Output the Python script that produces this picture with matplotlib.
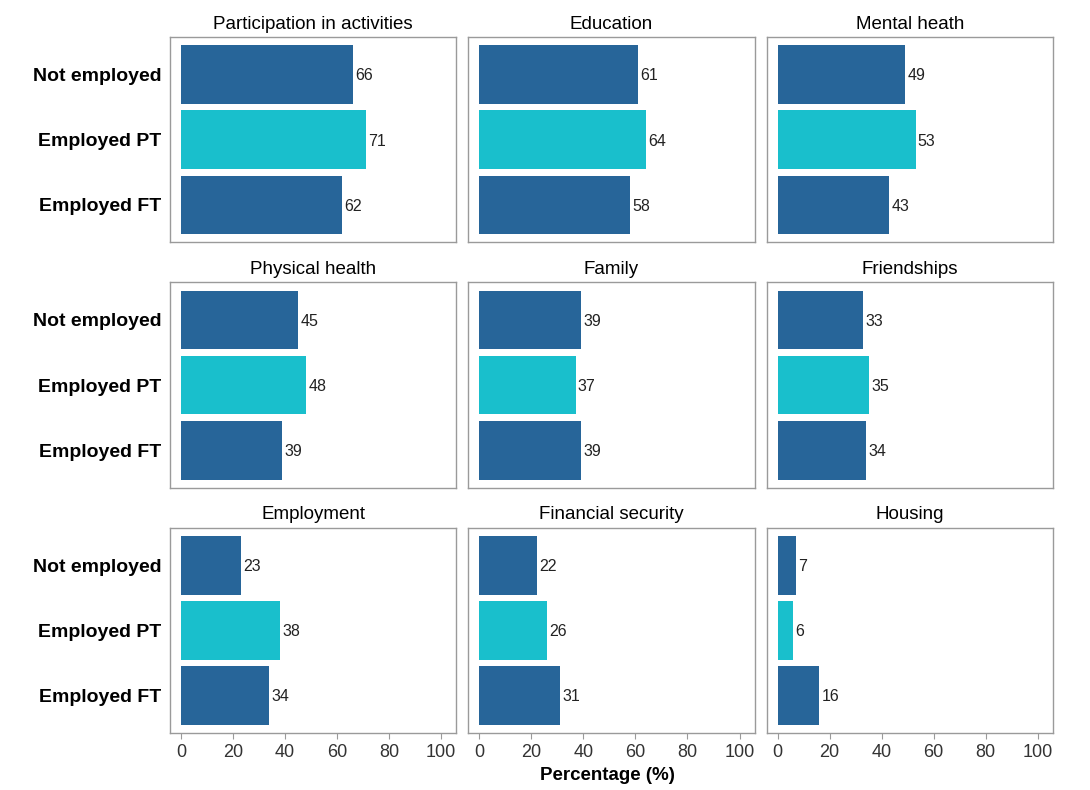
import matplotlib
matplotlib.use("Agg")
import matplotlib.pyplot as plt

plt.rcParams["font.family"] = ["Liberation Sans", "DejaVu Sans"]

groups = ["Not employed", "Employed PT", "Employed FT"]
topics = ["Participation in activities", "Education", "Mental heath",
          "Physical health", "Family", "Friendships",
          "Employment", "Financial security", "Housing"]
not_employed = [66, 61, 49, 45, 39, 33, 23, 22, 7]
employed_pt = [71, 64, 53, 48, 37, 35, 38, 26, 6]
employed_ft = [62, 58, 43, 39, 39, 34, 34, 31, 16]

colors = ["#276599", "#19BFCC", "#276599"]
edge = "#9a9a9a"

fig, axes = plt.subplots(3, 3, figsize=(10.9, 7.9), dpi=100)
fig.subplots_adjust(left=0.156, right=0.966, top=0.953, bottom=0.072,
                    wspace=0.042, hspace=0.195)

for i, ax in enumerate(axes.flat):
    vals = [not_employed[i], employed_pt[i], employed_ft[i]]
    ypos = range(len(groups))
    ax.barh(ypos, vals, height=0.9, color=colors)
    for y, v in zip(ypos, vals):
        ax.text(v + 0.9, y + 0.02, str(v), va="center", ha="left",
                fontsize=11.5, color="#222222")
    ax.set_xlim(-4.2, 105.8)
    ax.set_ylim(2.575, -0.575)
    ax.set_title(topics[i], fontsize=13.5, pad=6)
    for s in ax.spines.values():
        s.set_color(edge)
        s.set_linewidth(1.0)
    ax.set_xticks([0, 20, 40, 60, 80, 100])
    ax.set_yticks(list(ypos))
    ax.tick_params(colors=edge, length=4, width=0.8, labelcolor="#333333")
    if i % 3 == 0:
        ax.set_yticklabels(groups, fontsize=14, fontweight="bold",
                           color="black")
        ax.tick_params(axis="y", length=0, pad=6)
    else:
        ax.tick_params(axis="y", left=False, labelleft=False)
    if i < 6:
        ax.tick_params(axis="x", bottom=False, labelbottom=False)
    else:
        ax.tick_params(axis="x", labelsize=13)

fig.text(0.557, 0.018, "Percentage (%)", ha="center", va="center",
         fontsize=13.5, fontweight="bold")

fig.savefig("out.png", dpi=100)
